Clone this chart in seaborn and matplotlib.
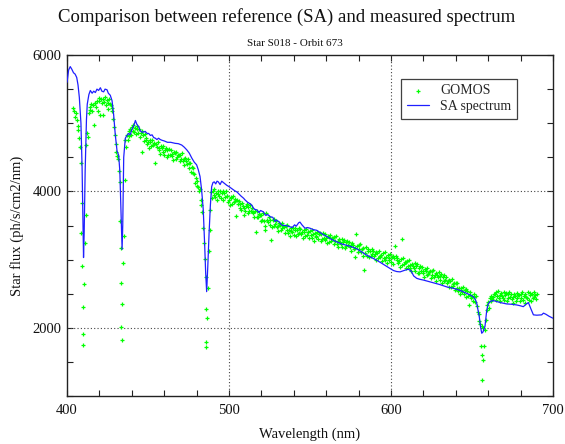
import numpy as np
import pandas as pd
import matplotlib
matplotlib.use("Agg")
import matplotlib.pyplot as plt
from matplotlib.ticker import MultipleLocator
import seaborn as sns

# --- SA reference spectrum (wavelength nm, flux ph/s/cm2/nm) ---
sa_wavelength = [
    400.0, 401.0, 402.0, 403.0, 404.0, 405.0, 406.0, 406.8, 407.6, 408.6,
    409.3, 409.8, 410.2, 410.6, 411.2, 412.0, 412.5, 413.5, 414.4, 415.5,
    416.5, 417.5, 418.5, 419.5, 420.6, 421.5, 422.6, 423.5, 424.7, 425.5,
    426.7, 427.8, 428.8, 429.8, 430.9, 431.9, 432.6, 433.3, 434.0, 434.4,
    435.0, 436.0, 437.0, 438.0, 439.0, 440.2, 441.2, 442.2, 443.2, 444.2,
    445.2, 446.3, 447.3, 448.3, 449.4, 450.4, 451.5, 452.5, 453.5, 454.5,
    455.5, 456.5, 457.6, 458.6, 460.0, 462.0, 464.0, 466.7, 468.7, 470.8,
    472.3, 473.9, 475.5, 477.0, 478.5, 480.0, 481.0, 482.1, 483.1, 484.1,
    485.0, 485.6, 486.2, 486.9, 487.7, 488.5, 489.3, 490.1, 490.9, 491.8,
    492.6, 493.4, 494.5, 495.5, 496.5, 497.5, 498.6, 500.0, 501.7, 503.5,
    505.0, 505.8, 507.5, 509.0, 509.9, 511.5, 513.0, 514.0, 515.5, 517.1,
    518.5, 519.5, 521.2, 522.5, 524.0, 525.3, 527.0, 528.5, 529.4, 531.0,
    532.5, 533.5, 535.0, 536.5, 537.7, 539.0, 540.5, 541.5, 543.0, 543.8,
    545.0, 546.9, 548.5, 550.0, 552.0, 554.1, 556.0, 558.0, 560.3, 563.0,
    566.5, 569.5, 572.6, 575.5, 578.8, 582.0, 585.0, 588.0, 591.2, 594.0,
    597.3, 599.4, 601.5, 603.5, 605.6, 608.0, 610.7, 612.5, 614.0, 615.9,
    618.0, 620.0, 623.0, 626.1, 630.0, 634.4, 637.5, 640.6, 643.5, 646.7,
    649.0, 650.8, 652.0, 652.9, 653.8, 654.5, 655.3, 656.0, 656.8, 658.0,
    658.6, 659.1, 660.0, 661.1, 663.0, 665.2, 667.5, 669.5, 671.4, 674.5,
    677.6, 679.5, 681.7, 683.0, 684.8, 686.3, 687.9, 690.0, 693.0, 694.1,
    695.5, 697.5, 700.0,
]
sa_flux = [
    5600, 5780, 5830, 5790, 5740, 5720, 5670, 5560, 5380, 5000,
    4360, 3600, 3030, 3400, 4300, 5050, 5280, 5420, 5480, 5440,
    5470, 5450, 5500, 5480, 5520, 5470, 5460, 5500, 5490, 5440,
    5410, 5330, 5120, 4830, 4590, 4530, 4300, 3700, 3150, 3500,
    4500, 4780, 4820, 4850, 4830, 4920, 4960, 5040, 4980, 4950,
    4890, 4870, 4870, 4880, 4850, 4850, 4820, 4830, 4790, 4780,
    4760, 4780, 4760, 4750, 4740, 4720, 4720, 4705, 4700, 4680,
    4650, 4610, 4560, 4490, 4430, 4390, 4320, 4220, 4020, 3730,
    3200, 2800, 2530, 2900, 3390, 3800, 4070, 4130, 4140, 4110,
    4150, 4140, 4100, 4150, 4130, 4110, 4090, 4070, 4040, 4010,
    3990, 3970, 3930, 3900, 3875, 3840, 3820, 3800, 3740, 3730,
    3690, 3720, 3700, 3650, 3660, 3630, 3620, 3560, 3580, 3550,
    3510, 3500, 3500, 3490, 3480, 3470, 3510, 3490, 3540, 3550,
    3510, 3460, 3470, 3460, 3440, 3430, 3400, 3370, 3340, 3300,
    3260, 3230, 3210, 3190, 3160, 3110, 3065, 3030, 2990, 2950,
    2900, 2870, 2840, 2825, 2820, 2840, 2860, 2830, 2760, 2725,
    2710, 2700, 2680, 2660, 2635, 2600, 2585, 2565, 2540, 2505,
    2480, 2455, 2420, 2360, 2250, 2160, 2010, 1920, 1940, 2020,
    2150, 2260, 2350, 2385, 2400, 2385, 2370, 2360, 2350, 2345,
    2335, 2325, 2310, 2340, 2370, 2280, 2190, 2185, 2190, 2215,
    2200, 2170, 2140,
]

# --- GOMOS measured spectrum, sampled every 0.5 nm from 404 nm ---
gomos_start, gomos_step = 404.0, 0.5
gomos_flux = [
    5230, 5180, 5090, 5150, 5040, 4960, 4900, 4780, 4650, 4420,
    3830, 2900, 2300, 2640, 3240, 3650, 4680, 4850, 4800, 5150,
    5240, 5200, 5280, 5180, 5260, 4970, 5300, 5290, 5240, 5320,
    5180, 5370, 5330, 5120, 5350, 5290, 5360, 5120, 5310, 5380,
    5270, 5340, 5300, 5210, 5350, 5280, 5260, 5180, 5230, 5060,
    4950, 4820, 4700, 4580, 4520, 4480, 4300, 4140, 3560, 2650,
    2350, 2950, 3340, 4170, 4750, 4650, 4830, 4760, 4890, 4810,
    4910, 4830, 4940, 4890, 4980, 4870, 4930, 4840, 4960, 4920,
    4850, 4920, 4800, 4860, 4880, 4580, 4830, 4740, 4840, 4760,
    4790, 4700, 4730, 4640, 4760, 4730, 4660, 4760, 4680, 4710,
    4700, 4410, 4700, 4650, 4720, 4600, 4640, 4550, 4670, 4630,
    4580, 4660, 4540, 4610, 4640, 4510, 4600, 4530, 4620, 4540,
    4600, 4520, 4550, 4460, 4580, 4560, 4480, 4580, 4500, 4530,
    4530, 4440, 4540, 4480, 4560, 4440, 4480, 4380, 4490, 4450,
    4400, 4470, 4350, 4410, 4420, 4290, 4360, 4270, 4350, 4250,
    4130, 4200, 4080, 4150, 4060, 4010, 4030, 3880, 3800, 3700,
    3460, 3240, 3010, 2750, 2270, 2150, 2580, 3120, 3430, 3730,
    3990, 3900, 4010, 3950, 4030, 3920, 3970, 3880, 4000, 3960,
    3930, 4010, 3900, 3970, 4000, 3880, 3980, 3920, 4010, 3940,
    3930, 3850, 3880, 3800, 3920, 3900, 3820, 3930, 3850, 3890,
    3860, 3640, 3870, 3810, 3860, 3760, 3820, 3730, 3830, 3790,
    3750, 3650, 3720, 3780, 3810, 3680, 3770, 3710, 3800, 3720,
    3760, 3680, 3700, 3620, 3720, 3410, 3620, 3720, 3630, 3670,
    3660, 3570, 3650, 3580, 3680, 3560, 3440, 3500, 3680, 3580,
    3550, 3630, 3510, 3580, 3290, 3480, 3580, 3500, 3590, 3520,
    3560, 3480, 3500, 3420, 3530, 3510, 3430, 3540, 3460, 3490,
    3480, 3390, 3490, 3430, 3510, 3390, 3440, 3350, 3470, 3420,
    3400, 3470, 3360, 3430, 3460, 3340, 3430, 3370, 3460, 3390,
    3450, 3370, 3400, 3320, 3440, 3410, 3340, 3450, 3360, 3410,
    3400, 3310, 3420, 3360, 3430, 3320, 3370, 3280, 3390, 3350,
    3330, 3410, 3300, 3370, 3390, 3270, 3370, 3300, 3390, 3320,
    3370, 3290, 3320, 3240, 3350, 3330, 3260, 3360, 3280, 3320,
    3320, 3230, 3330, 3270, 3340, 3230, 3280, 3190, 3300, 3260,
    3230, 3300, 3190, 3260, 3290, 3170, 3260, 3200, 3280, 3210,
    3260, 3180, 3210, 3120, 3240, 3220, 3150, 3040, 3170, 3370,
    3200, 3110, 3210, 3150, 3230, 3110, 3150, 3060, 3170, 2850,
    3100, 3180, 3060, 3130, 3160, 3040, 3130, 3060, 3150, 3080,
    3130, 3050, 3080, 3000, 3110, 3090, 3020, 3130, 3040, 3060,
    3070, 2980, 3090, 3030, 3110, 3000, 3040, 2950, 3070, 3030,
    3000, 3080, 2970, 3040, 3060, 2940, 3030, 3200, 3060, 2990,
    3030, 2950, 2980, 2890, 3010, 3300, 2920, 3030, 2930, 2970,
    2970, 2880, 2980, 2910, 2990, 2880, 2920, 2830, 2940, 2900,
    2870, 2950, 2830, 2900, 2930, 2800, 2880, 2810, 2900, 2830,
    2890, 2810, 2830, 2750, 2860, 2840, 2770, 2870, 2790, 2820,
    2830, 2730, 2840, 2780, 2850, 2740, 2780, 2690, 2810, 2770,
    2740, 2820, 2700, 2760, 2790, 2660, 2750, 2680, 2770, 2700,
    2750, 2660, 2690, 2600, 2700, 2680, 2600, 2710, 2620, 2640,
    2650, 2550, 2660, 2580, 2660, 2540, 2580, 2490, 2580, 2550,
    2530, 2600, 2490, 2550, 2570, 2450, 2540, 2460, 2330, 2480,
    2530, 2440, 2470, 2390, 2490, 2450, 2380, 2470, 2320, 2230,
    2200, 2100, 2050, 1730, 2020, 1530, 2000, 1730, 1970, 2110,
    2260, 2330, 2380, 2290, 2440, 2400, 2470, 2420, 2450, 2500,
    2500, 2410, 2520, 2460, 2540, 2430, 2480, 2390, 2510, 2470,
    2440, 2520, 2410, 2480, 2510, 2390, 2490, 2430, 2520, 2450,
    2500, 2420, 2450, 2370, 2490, 2470, 2400, 2510, 2430, 2480,
    2480, 2390, 2500, 2440, 2520, 2410, 2460, 2370, 2490, 2450,
    2440, 2520, 2410, 2480, 2510, 2390, 2490, 2430, 2530, 2450,
    2480, 2420, 2500,
]
# additional GOMOS samples inside the Balmer line cores
gomos_core_wavelength = [408.8, 409.7, 410.1, 433.3, 433.5, 434.1, 485.9, 486.1, 656.0, 656.4]
gomos_core_flux = [3386, 1906, 1749, 3166, 2008, 1822, 1797, 1715, 1240, 1600]

gomos_wavelength = gomos_start + gomos_step * np.arange(len(gomos_flux))
gomos = pd.DataFrame({
    "wavelength": np.concatenate([gomos_wavelength, gomos_core_wavelength]),
    "flux": np.concatenate([gomos_flux, gomos_core_flux]),
})
sa = pd.DataFrame({"wavelength": sa_wavelength, "flux": sa_flux})

sns.set_style("ticks")
plt.rcParams["font.family"] = ["Liberation Serif", "DejaVu Serif"]

fig = plt.figure(figsize=(5.65, 4.44), dpi=100)
ax = fig.add_axes([0.1186, 0.1081, 0.8602, 0.768])

sns.scatterplot(data=gomos, x="wavelength", y="flux", ax=ax, marker="+",
                color="#00ff00", s=10, linewidth=0.9, label="GOMOS", zorder=3)
sns.lineplot(data=sa, x="wavelength", y="flux", ax=ax, color="#1f1fff",
             linewidth=0.9, label="SA spectrum", sort=False, zorder=4)

ax.set_xlim(400, 700)
ax.set_ylim(1000, 6000)
ax.xaxis.set_major_locator(MultipleLocator(100))
ax.xaxis.set_minor_locator(MultipleLocator(20))
ax.yaxis.set_major_locator(MultipleLocator(2000))
ax.yaxis.set_minor_locator(MultipleLocator(500))
ax.tick_params(which="both", direction="in", top=True, right=True,
               length=4.5, width=0.8, color="#222222", labelsize=10.5,
               labelcolor="#111111")
ax.tick_params(axis="x", pad=6)
ax.tick_params(axis="y", pad=4)
for sp in ax.spines.values():
    sp.set_linewidth(1.0)
    sp.set_color("#222222")

for xv in (500, 600):
    ax.axvline(xv, color="#444444", linestyle=(0, (1, 2)), linewidth=0.8, zorder=1)
for yv in (2000, 4000):
    ax.axhline(yv, color="#444444", linestyle=(0, (1, 2)), linewidth=0.8, zorder=1)

ax.set_xlabel("Wavelength (nm)", fontsize=10.5, labelpad=7, color="#111111")
ax.set_ylabel("Star flux (ph/s/cm2/nm)", fontsize=10.5, labelpad=6, color="#111111")

fig.text(0.507, 0.962, "Comparison between reference (SA) and measured spectrum",
         ha="center", va="center", fontsize=13.5, color="#111111")
fig.text(0.522, 0.901, "Star S018 - Orbit 673", ha="center", va="center",
         fontsize=8, color="#111111")

leg = ax.legend(loc="upper right", bbox_to_anchor=(0.926, 0.93), borderaxespad=0,
                frameon=True, fancybox=False, shadow=False, fontsize=10,
                handlelength=1.6, handletextpad=0.8, borderpad=0.4,
                labelspacing=0.2, markerscale=1.0)
leg.get_frame().set_edgecolor("#111111")
leg.get_frame().set_linewidth(0.9)

fig.savefig("out.png", dpi=100)
